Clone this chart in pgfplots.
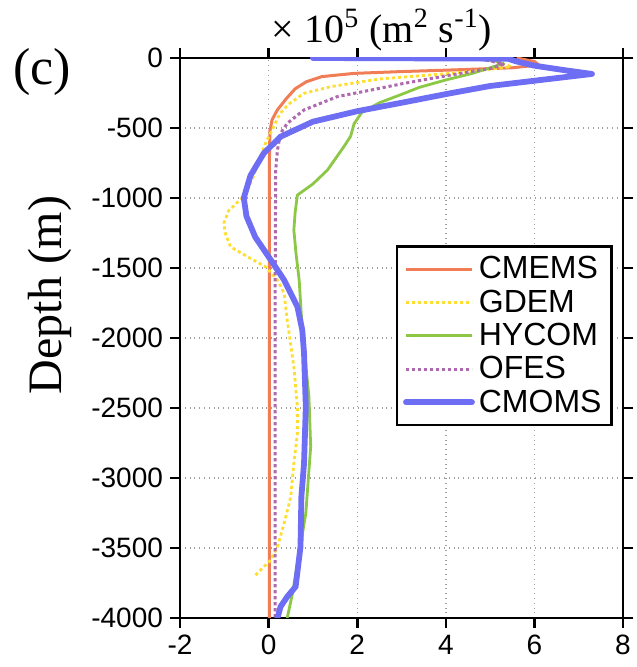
\documentclass[border=0pt]{standalone}
\usepackage{pgfplots}
\pgfplotsset{compat=1.18}
\usepackage{fontspec}
\setmainfont{Liberation Sans}
\newfontfamily\seriffont{Liberation Serif}
\definecolor{cmems}{RGB}{240,125,85}
\definecolor{gdem}{RGB}{255,222,50}
\definecolor{hycom}{RGB}{140,200,70}
\definecolor{ofes}{RGB}{175,105,175}
\definecolor{cmoms}{RGB}{110,110,245}
\begin{document}
\begin{tikzpicture}
\useasboundingbox (0,0) rectangle (318pt,333.5pt);
\begin{axis}[
  at={(90pt,24.5pt)}, anchor=south west,
  scale only axis, width=221.5pt, height=280pt,
  xmin=-2, xmax=8, ymin=-4000, ymax=0,
  xtick={-2,0,2,4,6,8}, ytick={-4000,-3500,-3000,-2500,-2000,-1500,-1000,-500,0},
  /pgf/number format/assume math mode=true,
  /pgf/number format/1000 sep={},
  tick label style={font=\fontsize{14}{16}\selectfont},
  tick align=outside,
  major tick length=5pt,
  axis line style={line width=1.3pt},
  tick style={black, line width=1.3pt},
  xmajorgrids, ymajorgrids, major grid style={gray!75, dotted, line width=0.7pt},
  legend style={at={(rel axis cs:0.977,0.666)}, anchor=north east, draw=black, line width=1.3pt,
    font=\fontsize{16}{18.5}\selectfont, cells={anchor=west}, row sep=0pt, inner sep=3pt},
  legend image code/.code={\draw[#1] (0pt,0pt) -- (33pt,0pt);},
]
\addplot[cmems, line width=1.5pt, line join=round] coordinates {
(5.6,0) (6.0,-25) (6.1,-50) (5.5,-70) (4.1,-86) (3.0,-97) (1.93,-110) (1.2,-133) (0.85,-170) (0.6,-220) (0.4,-290) (0.2,-370) (0.08,-440) (0.03,-520) (0.02,-700) (0.02,-1500) (0.02,-4000)};
\addlegendentry{CMEMS}
\addplot[gdem, line width=1.4pt, line join=round, dash pattern=on 1.6pt off 1.4pt] coordinates {
(4.6,0) (5.2,-30) (5.47,-62) (4.6,-95) (4.1,-110) (2.5,-150) (1.9,-180) (1.4,-205) (0.8,-252) (0.45,-330) (0.25,-400) (0.08,-514) (-0.07,-609) (-0.22,-729) (-0.37,-871) (-0.6,-1000) (-0.9,-1090) (-1.01,-1180) (-0.98,-1250) (-0.86,-1348) (-0.48,-1419) (-0.07,-1491) (0.2,-1586) (0.35,-1681) (0.42,-1871) (0.57,-2205) (0.65,-2491) (0.65,-2681) (0.57,-2895) (0.5,-3134) (0.35,-3324) (0.2,-3491) (0.05,-3586) (-0.11,-3634) (-0.33,-3705)};
\addlegendentry{GDEM}
\addplot[hycom, line width=1.4pt, line join=round] coordinates {
(4.8,0) (5.1,-20) (5.3,-40) (5.0,-70) (4.6,-110) (4.0,-157) (3.4,-210) (3.0,-260) (2.5,-320) (2.1,-390) (1.93,-470) (1.85,-560) (1.7,-633) (1.33,-800) (1.0,-900) (0.65,-979) (0.6,-1100) (0.57,-1229) (0.62,-1400) (0.69,-1586) (0.76,-1943) (0.91,-2419) (0.95,-2776) (0.84,-3252) (0.69,-3538) (0.54,-3824) (0.42,-4000)};
\addlegendentry{HYCOM}
\addplot[ofes, line width=1.5pt, line join=round, dash pattern=on 1.6pt off 1.4pt] coordinates {
(4.5,0) (5.0,-20) (5.3,-45) (5.0,-75) (4.12,-121) (3.06,-181) (2.31,-229) (1.55,-276) (0.8,-371) (0.42,-467) (0.27,-538) (0.2,-657) (0.16,-800) (0.15,-1500) (0.15,-4000)};
\addlegendentry{OFES}
\addplot[cmoms, line width=2.9pt, line join=round, line cap=round] coordinates {
(1.0,0) (5.4,-5) (5.6,-25) (6.0,-55) (6.7,-88) (7.3,-114) (6.2,-155) (5.0,-200) (4.1,-252) (3.0,-320) (2.0,-380) (1.0,-455) (0.27,-562) (-0.11,-681) (-0.41,-840) (-0.56,-1000) (-0.5,-1130) (-0.3,-1280) (0.05,-1443) (0.35,-1586) (0.65,-1776) (0.76,-1943) (0.8,-2110) (0.84,-2491) (0.8,-2895) (0.74,-3134) (0.72,-3491) (0.61,-3776) (0.42,-3848) (0.27,-3919) (0.2,-4000)};
\addlegendentry{CMOMS}
\end{axis}
\node at (191pt,318.5pt) {\seriffont\fontsize{20}{23}\selectfont × 10\textsuperscript{5} (m\textsuperscript{2} s\textsuperscript{-1})};
\node[rotate=90] at (25pt,186pt) {\seriffont\fontsize{24}{27}\selectfont Depth (m)};
\node at (21pt,297.5pt) {\seriffont\fontsize{26}{29}\selectfont (c)};
\end{tikzpicture}
\end{document}
